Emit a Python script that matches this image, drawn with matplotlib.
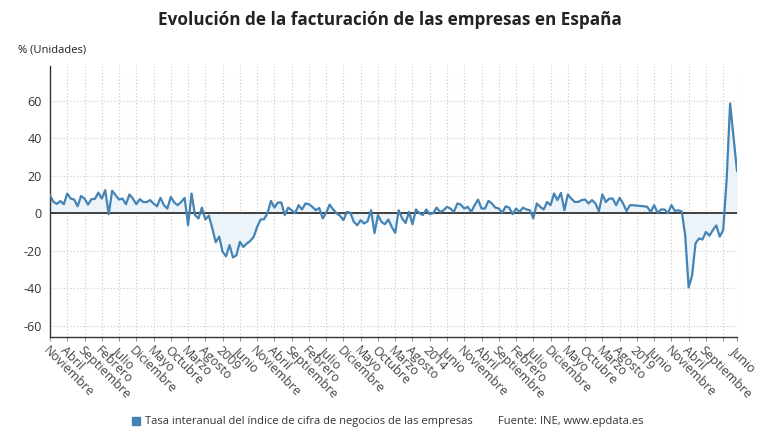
import matplotlib
matplotlib.use("Agg")
import matplotlib.pyplot as plt
import numpy as np

plt.rcParams['font.family'] = ['Open Sans', 'DejaVu Sans']

# Monthly series, Nov 2004 .. Jun 2021 (200 months)
values = [
    9.6, 6, 5, 6.5, 4.8, 10.5, 7.8, 7.3, 3.7, 9.2,
    7.8, 4.6, 7.5, 7.6, 11, 7.8, 12.3, -0.5, 12, 9.6,
    7.3, 7.8, 4.8, 10, 7.8, 4.8, 7.5, 6, 5.9, 7,
    5.2, 3.7, 8.2, 4.3, 2.5, 8.7, 5.7, 4.3, 6, 8.2,
    -6.4, 10.5, -1, -2.8, 3, -3.4, -1.3, -8, -15.5, -12.5,
    -20.6, -23, -17, -23.6, -22.4, -15.3, -18, -16.2, -14.8, -12.6,
    -7.3, -3.4, -3.2, 0, 6.6, 3, 5.7, 5.7, -1, 3,
    1.6, 0, 4.3, 2, 5.2, 4.8, 3.4, 1.6, 2.8, -2.8,
    0.2, 4.6, 2, 0, -1.4, -3.7, 0.7, 0.2, -4.6, -6.4,
    -3.7, -5.5, -4.3, 1.6, -10.6, -1, -4.6, -5.9, -3.4, -7.3,
    -10.5, 1.6, -2.8, -5.2, 0.7, -5.9, 2, 0, -1, 2,
    -0.5, 0, 3, 0.7, 1.6, 3.4, 2.5, 0.7, 5.2, 4.6,
    2.5, 3.4, 0.7, 4.3, 7.3, 2.5, 2.5, 6.6, 5.2, 3,
    2.5, 0.2, 3.7, 3, -0.5, 2.5, 0.7, 3, 2, 1.6,
    -2.8, 5.2, 3.4, 2, 6, 4.3, 10.5, 7, 10.8, 1.6,
    10, 7.8, 6, 6, 7, 7.3, 5.2, 7, 5.2, 1,
    10, 6, 7.8, 7.8, 4.3, 8.2, 5.2, 1.2, 4.3, 4.3,
    4, 3.9, 3.7, 3.4, 0.7, 4.3, 0.2, 2, 2, 0,
    4.3, 1.2, 1.6, 0.9, -12, -39.6, -33, -16, -13.5, -14,
    -10, -12, -9, -6.5, -12.5, -9, 18, 58.5, 40.5, 22.5,
]

tick_labels = [
    "Noviembre", "Abril", "Septiembre", "Febrero", "Julio", "Diciembre",
    "Mayo", "Octubre", "Marzo", "Agosto", "2009", "Junio", "Noviembre",
    "Abril", "Septiembre", "Febrero", "Julio", "Diciembre", "Mayo",
    "Octubre", "Marzo", "Agosto", "2014", "Junio", "Noviembre", "Abril",
    "Septiembre", "Febrero", "Julio", "Diciembre", "Mayo", "Octubre",
    "Marzo", "Agosto", "2019", "Junio", "Noviembre", "Abril",
    "Septiembre", "", "Junio",
]
y_ticks = [-60, -40, -20, 0, 20, 40, 60]

title = "Evolución de la facturación de las empresas en España"
unit_label = "% (Unidades)"
legend_label = "Tasa interanual del índice de cifra de negocios de las empresas"
source = "Fuente: INE, www.epdata.es"

line_color = "#4483b3"
fill_color = "#ecf3f9"

x = np.arange(len(values))
y = np.array(values)

fig = plt.figure(figsize=(7.8, 4.4), dpi=100)
ax = fig.add_axes([50 / 780, 1 - 337 / 440, 687 / 780, 271 / 440])

ax.fill_between(x, y, 0, color=fill_color, linewidth=0, zorder=1)
ax.axhline(0, color="#333333", linewidth=1.3, zorder=2)
ax.plot(x, y, color=line_color, linewidth=1.6, zorder=3)

tick_pos = list(range(0, len(values) - 4, 5)) + [len(values) - 1]
ax.set_xticks(tick_pos)
ax.set_xticklabels(tick_labels, rotation=-45, ha="left", va="top",
                   rotation_mode="anchor", fontsize=9, color="#444444")
ax.set_yticks(y_ticks)
ax.set_yticklabels([str(v) for v in y_ticks], fontsize=9, color="#333333")

ax.set_xlim(0, len(values) - 1)
ax.set_ylim(-66, 78.5)

ax.grid(axis="x", linestyle=(0, (1, 2)), color="#c8c8c8", linewidth=0.8)
ax.grid(axis="y", linestyle=(0, (1, 2)), color="#c8c8c8", linewidth=0.8)
ax.set_axisbelow(True)

for s in ["top", "right"]:
    ax.spines[s].set_visible(False)
ax.spines["left"].set_color("#333333")
ax.spines["bottom"].set_color("#333333")
ax.spines["left"].set_linewidth(1.0)
ax.spines["bottom"].set_linewidth(1.0)
ax.tick_params(axis="x", length=3, color="#999999", pad=2)
ax.tick_params(axis="y", length=0, pad=6)

fig.text(0.5, 1 - 20 / 440, title, ha="center", va="center",
         fontsize=12.3, fontweight="bold", color="#222222")
fig.text(18 / 780, 1 - 50 / 440, unit_label, ha="left", va="center",
         fontsize=8, color="#222222")

fig.patches.append(plt.Rectangle((132 / 780, 1 - 425 / 440), 8 / 780, 8 / 440,
                                 transform=fig.transFigure, color=line_color,
                                 figure=fig))
fig.text(145 / 780, 1 - 421 / 440, legend_label, ha="left", va="center",
         fontsize=8, color="#333333")
fig.text(498 / 780, 1 - 421 / 440, source, ha="left", va="center",
         fontsize=8, color="#333333")

fig.savefig("out.png", dpi=100)
